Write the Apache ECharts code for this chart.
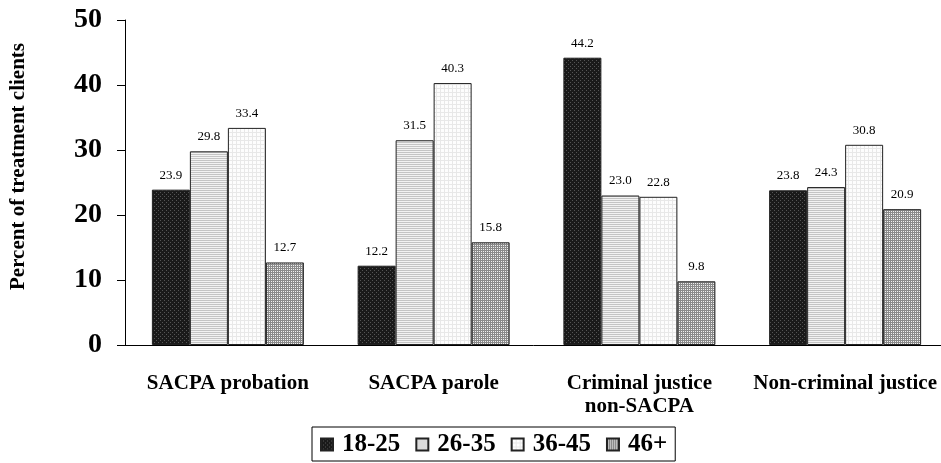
<!DOCTYPE html>
<html>
<head>
<meta charset="utf-8">
<script src="https://cdn.jsdelivr.net/npm/echarts@6/dist/echarts.min.js"></script>
<style>html,body{margin:0;padding:0;background:#fff;}#c{width:941px;height:463px;}</style>
</head>
<body>
<div id="c"></div>
<script>
const categories = ['SACPA probation', 'SACPA parole', 'Criminal justice\nnon-SACPA', 'Non-criminal justice'];
const seriesNames = ['18-25', '26-35', '36-45', '46+'];
const age18_25 = [23.9, 12.2, 44.2, 23.8];
const age26_35 = [29.8, 31.5, 23.0, 24.3];
const age36_45 = [33.4, 40.3, 22.8, 30.8];
const age46plus = [12.7, 15.8, 9.8, 20.9];
const yTicks = [0, 10, 20, 30, 40, 50];

function pattern(kind) {
  const c = document.createElement('canvas');
  c.width = 4; c.height = 4;
  const g = c.getContext('2d');
  if (kind === 0) {
    g.fillStyle = '#1a1a1a'; g.fillRect(0, 0, 4, 4);
    g.fillStyle = '#555'; g.fillRect(0, 0, 1, 1); g.fillRect(2, 2, 1, 1);
  } else if (kind === 1) {
    g.fillStyle = '#f2f2f2'; g.fillRect(0, 0, 4, 4);
    g.fillStyle = '#c4c4c4'; g.fillRect(0, 0, 4, 1); g.fillRect(0, 2, 4, 1);
  } else if (kind === 2) {
    g.fillStyle = '#fdfdfd'; g.fillRect(0, 0, 4, 4);
    g.fillStyle = '#e8e8e8'; g.fillRect(0, 0, 4, 1); g.fillRect(0, 0, 1, 4);
  } else {
    g.fillStyle = '#f0f0f0'; g.fillRect(0, 0, 4, 4);
    g.fillStyle = '#8a8a8a'; g.fillRect(0, 0, 4, 1); g.fillRect(0, 0, 1, 4);
    g.fillRect(0, 2, 4, 1); g.fillRect(2, 0, 1, 4);
  }
  return { image: c, repeat: 'repeat' };
}

const allData = [age18_25, age26_35, age36_45, age46plus];
const serif = '"Liberation Serif", "Times New Roman", serif';

const chart = echarts.init(document.getElementById('c'), null, { renderer: 'canvas' });
chart.setOption({
  animation: false,
  backgroundColor: '#fff',
  grid: { left: 125, top: 20, width: 823, bottom: 118, containLabel: false, outerBoundsMode: 'none' },
  legend: {
    data: seriesNames,
    icon: 'rect',
    left: 312, top: 427,
    itemWidth: 12, itemHeight: 12, itemGap: 15,
    padding: [5, 8, 4, 8],
    borderColor: '#000', borderWidth: 1,
    textStyle: { fontFamily: serif, fontWeight: 'bold', fontSize: 25, color: '#000', padding: [0, 0, 0, 4] }
  },
  xAxis: {
    type: 'category',
    data: categories,
    axisLine: { lineStyle: { color: '#000', width: 1 } },
    axisTick: { show: false },
    axisLabel: { fontFamily: serif, fontWeight: 'bold', fontSize: 21, color: '#000', margin: 27, lineHeight: 23, interval: 0 }
  },
  yAxis: {
    type: 'value',
    min: 0, max: 50, interval: 10,
    name: 'Percent of treatment clients',
    nameLocation: 'middle',
    nameGap: 96,
    nameTextStyle: { fontFamily: serif, fontWeight: 'bold', fontSize: 21, color: '#000', padding: [0, 0, 0, 32] },
    axisLine: { show: true, lineStyle: { color: '#000', width: 1 } },
    axisTick: { show: true, inside: false, length: 8, lineStyle: { color: '#000' } },
    splitLine: { show: false },
    axisLabel: { fontFamily: serif, fontWeight: 'bold', fontSize: 28, color: '#000', margin: 23,
      formatter: v => yTicks.includes(v) ? String(v) : '' }
  },
  series: seriesNames.map((n, i) => ({
    name: n,
    type: 'bar',
    data: allData[i],
    barWidth: 38,
    barGap: '0%',
    itemStyle: { color: pattern(i), borderColor: '#222', borderWidth: 1 },
    label: { show: true, position: 'top', distance: 8, fontFamily: serif, fontSize: 13, color: '#000',
      formatter: p => p.value.toFixed(1) }
  }))
});
</script>
</body>
</html>
